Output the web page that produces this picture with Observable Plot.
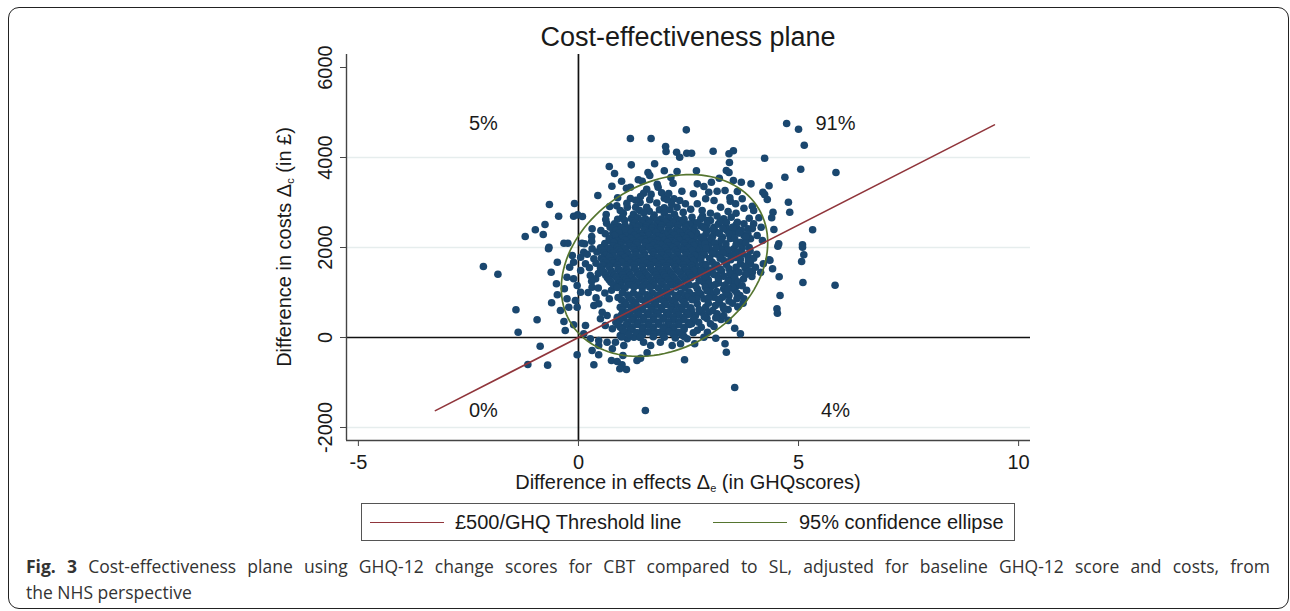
<!DOCTYPE html>
<html><head><meta charset="utf-8">
<script src="https://cdn.jsdelivr.net/npm/d3@7"></script>
<script src="https://cdn.jsdelivr.net/npm/@observablehq/plot@0.6"></script>
<style>
body{margin:0;background:#fff;width:1290px;height:611px;position:relative;overflow:hidden;font-family:"Liberation Sans",Arial,sans-serif;color:#1a1a1a;}
#frame{position:absolute;left:8px;top:7px;width:1281px;height:602px;border:1.5px solid #222;border-radius:11px;box-sizing:border-box;}
#chart{position:absolute;left:0;top:0;}
#title{position:absolute;left:346px;width:684px;top:21px;line-height:32px;text-align:center;font-size:27px;}
#xlabel{position:absolute;left:346px;width:684px;top:473px;line-height:18px;text-align:center;font-size:20px;}
#ylabel{position:absolute;left:287px;top:247px;transform:translate(-50%,-50%) rotate(-90deg);white-space:nowrap;font-size:20px;line-height:24px;}
sub{font-size:11px;vertical-align:-3px;}
#legend{position:absolute;left:361px;top:503px;width:654px;height:38px;border:1px solid #555;box-sizing:border-box;font-size:20px;}
#legend .sw{position:absolute;top:18px;width:74px;height:0;border-top:1.6px solid;}
#legend .lb{position:absolute;top:7px;line-height:22px;white-space:nowrap;}
#caption{position:absolute;left:26px;top:553px;width:1244px;font-family:"Open Sans","Noto Sans",sans-serif;font-size:17.5px;color:#333;line-height:26px;}
#caption .l1{text-align:justify;text-align-last:justify;}
</style>
</head><body>
<div id="frame"></div>
<div id="chart"></div>
<div id="title">Cost-effectiveness plane</div>
<div id="ylabel">Difference in costs Δ<sub>c</sub> (in £)</div>
<div id="xlabel">Difference in effects Δ<sub>e</sub> (in GHQscores)</div>
<div id="legend">
  <div class="sw" style="left:8px;border-color:#90353b"></div>
  <div class="lb" style="left:93px">£500/GHQ Threshold line</div>
  <div class="sw" style="left:351px;border-color:#55752f"></div>
  <div class="lb" style="left:437px">95% confidence ellipse</div>
</div>
<div id="caption">
  <div class="l1"><b>Fig. 3</b> Cost-effectiveness plane using GHQ-12 change scores for CBT compared to SL, adjusted for baseline GHQ-12 score and costs, from</div>
  <div>the NHS perspective</div>
</div>
<script>
// ---- data ----
const xTicks = [-5, 0, 5, 10];
const yTicks = [-2000, 0, 2000, 4000, 6000];
const yGrid = [-2000, 2000, 4000];
const xDomain = [-5.27, 10.27];
const yDomain = [-2289, 6289];

// bootstrap replicates: [difference in effects, difference in costs]
const bootstrapDraws = [
// north-west & outlying
[-2.16,1578],[-1.83,1407],[-1.42,615],[-0.94,393],[-1.37,118],[-0.87,-193],[-1.15,-600],[-0.70,-615],
[-1.21,2244],[-0.98,2393],[-0.80,2289],[-0.76,2511],[-0.67,2007],[-0.66,2955],[-0.09,2978],[-0.45,2695],
[-0.11,2695],[-0.02,2726],[0.09,2689],[-0.33,2095],[-0.24,2095],[0.08,2095],[0.14,2082],
[-0.68,1971],[-0.48,1673],[-0.62,1451],[-0.50,1193],[-0.48,949],[-0.61,771],[-0.41,600],[-0.33,356],
[-0.30,156],[-0.11,282],[-0.03,-384],[0.35,-607],[0.75,-511],[0.99,-607],[1.09,-711],[0.94,-696],
[1.01,-400],[0.88,-533],[1.33,-511],[1.41,-460],[1.56,-340],[2.41,-496],[0.31,-289],[0.46,-384],
[0.77,-251],[0.46,-178],[3.55,-1110],[1.52,-1622],
// upper part (north)
[2.45,4615],[1.18,4422],[1.65,4422],[1.98,4244],[1.99,4133],[2.23,4118],[2.30,4006],[2.46,4095],
[0.70,3800],[1.20,3837],[1.73,3860],[0.82,3644],[1.58,3666],[1.62,3600],[1.95,3704],[2.24,3689],
[0.98,3473],[0.76,3362],[1.36,3504],[1.45,3473],[1.79,3406],[1.81,3340],[2.10,3555],[2.15,3429],
[1.09,3318],[1.18,3340],[1.55,3295],[1.48,3206],[1.89,3215],[1.95,3095],[2.02,3060],[2.17,3082],
[2.30,3044],[0.44,3155],[0.89,3104],[1.18,3089],[1.41,3133],[1.62,3060],[0.71,2911],[0.87,2926],
[1.11,2895],[1.30,2895],[1.39,2822],[1.55,2895],[1.61,2806],[1.84,2838],[1.95,2882],[2.08,2838],
[2.24,2895],[2.43,2971],[0.63,2733],[0.89,2629],[1.00,2673],[1.05,2600],[1.20,2644],[1.24,2526],
[0.82,2526],[0.92,2466],[0.64,2540],[0.31,2415],[0.30,2244],[0.30,2140],[0.51,2378],[0.61,2304],
[0.80,2437],[0.78,2318],[0.88,2215],[1.03,2318],[1.11,2193],
[1.02,2760],[1.25,2740],[1.48,2770],[1.72,2720],[1.95,2760],[2.18,2740],[2.38,2780],[1.10,2980],
[1.40,3000],[1.78,2990],[2.12,2960],[2.55,2850],[0.95,2820],[1.65,3180],[2.05,3200],[1.30,3050],
[2.35,3250],[0.62,2620],[0.72,2450],[2.60,2560],
// north-east outliers
[4.73,4755],[5.00,4629],[5.13,4273],[5.85,3666],[5.05,3740],[4.69,3562],[4.23,3984],[3.06,4140],
[3.42,4082],[3.52,4149],[3.43,3889],[3.36,3711],[3.42,3666],[3.20,3540],[2.68,3704],[2.57,4095],
[3.52,3489],[3.70,3451],[3.92,3415],[4.33,3371],[4.19,3229],[4.23,3178],[4.29,3066],[4.77,3006],
[4.80,2784],[4.42,2784],[4.39,2660],[4.44,2400],[5.32,2393],[4.55,2082],[5.09,2060],
[4.53,2029],[5.09,2007],[5.12,1838],[5.07,1689],[4.35,1718],[4.41,1527],[4.56,1349],[5.10,1222],
[5.83,1162],[4.58,933],[4.51,638],[4.52,540],[3.74,762],[3.55,207],[3.68,82],[3.33,-140],[3.36,-327],
[3.12,-16],[3.08,244],[3.24,400],[2.79,229],[2.64,-140],[2.61,104],[2.57,304],[2.57,562],
[3.94,1355],[4.14,1451],[4.20,1638],[4.33,1727],
// right half of cloud
[2.70,3415],[2.85,3355],[3.02,3451],[2.96,3229],[3.15,3251],[3.33,3266],[3.61,3244],[2.89,3082],
[3.08,3044],[3.44,3104],[3.45,3029],[3.57,2971],[3.72,3082],[3.76,2873],[3.95,2918],[3.98,2822],
[4.10,2660],[3.98,2526],[4.15,2451],[3.23,2895],[3.30,2638],[3.47,2673],[3.61,2562],[3.76,2526],
[3.85,2415],[4.06,2266],[4.18,2155],[3.38,2378],[3.53,2340],[3.76,2266],[3.68,2118],[3.27,2229],
[3.08,2451],[2.93,2600],[2.81,2822],[2.70,2971],[2.61,3193],[2.58,2673],[2.64,2378],[2.76,2118],
[3.00,2118],[3.19,2044],[3.91,2193],
[2.77,1895],[3.00,1933],[3.27,1955],[3.53,1971],[3.72,1984],[2.81,1638],[3.04,1673],[3.30,1711],
[3.42,1527],[3.68,1638],[3.80,1527],[3.91,1638],[4.02,1562],[2.70,1378],[2.93,1415],[3.15,1378],
[3.45,1304],[3.61,1155],[3.30,1082],[3.00,1118],[2.85,1229],[2.70,1082],[2.62,933],[2.85,860],
[3.08,896],[3.27,896],[3.42,933],[3.11,711],[2.89,673],[2.96,562],[3.15,527],[3.30,489],[2.70,749],
[2.66,489],[2.58,340],[2.73,340],[3.00,304],[2.93,118],[2.85,7],[3.67,933],[3.76,860],
[2.78,2480],[2.92,2380],[3.05,2250],[3.18,2520],[3.34,2460],[3.45,2200],[3.60,2420],[2.70,2260],
[2.86,2180],[3.12,2350],[2.75,1990],[2.95,2030],[3.15,1850],[3.40,1860],[3.58,1780],[2.70,1760],
[2.88,1540],[3.10,1560],[3.25,1480],[3.52,1430],[2.75,1500],[2.95,1280],[3.18,1210],[3.35,1000],
[3.55,1050],[2.78,960],[3.00,990],[3.20,780],[2.80,560],[3.05,600],[2.65,1640],[2.82,2700],
[3.00,2760],[3.15,2700],[3.40,2800],[3.58,2760],[3.88,2650],[3.95,2420],[3.88,2000],[3.85,1800],
[4.05,1850],[3.95,1450],[3.75,1300],[3.82,1050],[3.50,1250],[3.62,680],[3.40,620],[3.40,380],
[2.92,420],[2.70,160],
[2.78,2640],[3.00,2600],[3.22,2580],[2.70,2550],[2.92,2520],[3.36,2560],[3.58,2500],
[2.62,2430],[2.85,2440],[3.05,2400],[3.28,2420],[3.50,2450],[3.70,2380],
[2.68,2320],[2.90,2300],[3.20,2310],[3.42,2300],[3.65,2320],[3.85,2300],
[2.62,2200],[2.82,2230],[3.02,2190],[3.24,2160],[3.55,2200],[3.80,2230],
[2.64,2090],[2.88,2080],[3.10,2100],[3.35,2080],[3.58,2060],[3.80,2100],
[2.68,1960],[2.90,1980],[3.12,1990],[3.40,1950],[3.62,1900],[3.90,1920],
[2.62,1860],[2.86,1840],[3.05,1860],[3.28,1870],[3.50,1830],[3.72,1860],[3.98,1760],
[2.78,1750],[2.98,1760],[3.22,1760],[3.46,1730],[3.68,1740],[3.86,1700],
[2.66,1600],[2.90,1620],[3.14,1610],[3.36,1620],[3.58,1560],[3.78,1580],
[2.78,1480],[3.00,1500],[3.22,1520],[3.44,1420],[3.65,1450],[3.88,1480],
[2.64,1390],[2.86,1350],[3.08,1400],[3.30,1360],[3.55,1340],[3.80,1400],
[2.74,1260],[2.96,1200],[3.18,1280],[3.40,1250],[3.62,1240],
[2.66,1150],[2.88,1120],[3.10,1170],[3.32,1160],[3.50,1120],[3.72,1150],
[2.74,1000],[2.92,1040],[3.14,1020],[3.40,1080],[3.60,990],
[2.68,860],[2.96,880],[3.18,850],[3.42,810],[3.60,860],
[2.74,620],[2.95,760],[3.28,700],[3.50,760],
[2.62,420],[2.86,460],[3.12,440],[3.30,640],
// left edge of cloud
[-0.20,1562],[-0.26,1340],[-0.32,1082],[-0.26,860],[-0.22,673],[-0.11,1304],[-0.03,1155],[0.05,1007],
[-0.07,822],[-0.03,673],[0.05,1489],[-0.11,1673],[-0.14,1822],[0.05,1784],[0.16,1638],[0.12,1895],
[0.31,1971],[0.35,1749],[0.27,1378],[0.39,1304],[0.31,1118],[0.35,711],[0.46,749],[0.54,562],
[0.50,416],[0.65,489],[0.61,267],[0.77,193],[0.95,44],[1.11,-29],[1.26,7],[1.48,-104],[1.64,-178],
[1.86,-104],[2.13,-178],[2.32,-140],[2.47,-29],[0.16,267],[0.12,82],[0.27,-29],[0.46,-67],[0.65,-104],
[0.84,-104],[1.03,-178],
[0.25,1550],[0.40,1650],[0.20,1850],[0.42,1900],[0.30,1250],[0.45,1420],[0.22,1000],[0.45,1100],
[0.40,880],[0.60,990],[0.75,1050],[0.70,860],
// dense core
[1.35,2660],[1.52,2640],[1.70,2655],[1.88,2630],[2.05,2665],[2.22,2645],[2.40,2625],
[1.44,2600],[1.61,2590],[1.79,2605],[1.96,2595],[2.14,2585],[2.31,2600],
[1.28,2545],[1.45,2530],[1.63,2550],[1.80,2520],[1.98,2555],[2.16,2535],[2.35,2545],[2.52,2520],
[1.06,2490],[1.24,2480],[1.37,2495],[1.54,2485],[1.72,2475],[1.89,2495],[2.07,2480],[2.26,2490],[2.44,2485],
[0.98,2440],[1.15,2425],[1.33,2445],[1.52,2420],[1.68,2435],[1.87,2440],[2.04,2415],[2.25,2430],[2.44,2445],
[0.85,2375],[1.06,2385],[1.30,2365],[1.49,2380],[1.67,2370],[1.86,2385],[2.03,2365],[2.21,2375],[2.40,2385],[2.58,2370],
[0.92,2320],[1.20,2330],[1.40,2310],[1.58,2325],[1.76,2335],[1.95,2305],[2.12,2320],[2.30,2330],[2.50,2310],
[0.82,2265],[1.09,2255],[1.27,2270],[1.43,2260],[1.60,2275],[1.80,2255],[1.99,2265],[2.17,2270],[2.36,2255],[2.55,2265],
[0.70,2200],[1.00,2215],[1.18,2205],[1.35,2220],[1.50,2195],[1.70,2210],[1.90,2225],[2.08,2200],[2.26,2215],[2.45,2205],
[0.70,2155],[0.88,2145],[1.06,2160],[1.24,2150],[1.42,2165],[1.62,2145],[1.80,2155],[1.96,2160],[2.11,2150],[2.30,2160],[2.50,2145],
[0.60,2090],[0.80,2110],[0.97,2100],[1.15,2085],[1.32,2105],[1.52,2115],[1.72,2095],[1.85,2080],[2.02,2110],[2.20,2100],[2.40,2090],[2.58,2110],
[0.59,2045],[0.78,2035],[0.96,2050],[1.15,2040],[1.34,2055],[1.51,2035],[1.69,2045],[1.88,2050],[2.06,2040],[2.24,2050],[2.42,2035],[2.62,2045],
[0.50,1995],[0.68,1980],[0.88,2000],[1.05,1985],[1.25,1995],[1.42,1975],[1.60,2005],[1.78,1990],[1.97,1980],[2.15,2000],[2.33,1985],[2.50,1995],
[0.54,1935],[0.73,1925],[0.91,1940],[1.08,1930],[1.27,1945],[1.46,1925],[1.65,1935],[1.83,1940],[2.01,1925],[2.20,1935],[2.39,1945],[2.58,1930],
[0.58,1880],[0.78,1870],[0.95,1890],[1.12,1875],[1.30,1885],[1.50,1865],[1.70,1890],[1.88,1880],[2.05,1870],[2.25,1885],[2.44,1875],
[0.61,1825],[0.79,1815],[0.96,1830],[1.14,1820],[1.31,1835],[1.50,1815],[1.70,1825],[1.89,1830],[2.07,1815],[2.26,1825],[2.45,1835],[2.64,1820],
[0.52,1765],[0.70,1780],[0.88,1760],[1.05,1775],[1.22,1770],[1.40,1785],[1.60,1760],[1.80,1775],[1.98,1765],[2.16,1780],[2.35,1760],[2.55,1770],
[0.57,1715],[0.75,1705],[0.93,1720],[1.11,1710],[1.29,1725],[1.47,1705],[1.67,1715],[1.85,1720],[2.03,1705],[2.22,1715],[2.41,1725],[2.60,1710],
[0.62,1660],[0.80,1650],[0.98,1670],[1.18,1655],[1.36,1665],[1.55,1645],[1.73,1670],[1.90,1655],[2.08,1660],[2.28,1650],[2.46,1665],
[0.55,1605],[0.71,1595],[0.89,1610],[1.08,1600],[1.27,1615],[1.46,1595],[1.64,1605],[1.82,1610],[2.00,1595],[2.18,1605],[2.38,1615],[2.57,1600],
[0.50,1545],[0.70,1560],[0.90,1540],[1.08,1555],[1.26,1550],[1.45,1565],[1.64,1540],[1.82,1555],[2.00,1545],[2.20,1560],[2.40,1550],[2.58,1540],
[0.54,1495],[0.74,1485],[0.93,1500],[1.11,1490],[1.30,1505],[1.48,1485],[1.68,1495],[1.86,1500],[2.05,1485],[2.25,1495],[2.45,1505],[2.62,1490],
[0.58,1445],[0.78,1430],[0.96,1450],[1.15,1435],[1.34,1440],[1.52,1425],[1.72,1450],[1.90,1440],[2.10,1430],[2.30,1445],[2.50,1435],
[0.62,1385],[0.82,1375],[1.00,1390],[1.18,1380],[1.38,1395],[1.56,1375],[1.76,1385],[1.94,1390],[2.14,1375],[2.34,1385],[2.53,1395],
[0.66,1325],[0.86,1340],[1.04,1320],[1.22,1335],[1.42,1330],[1.60,1345],[1.80,1320],[1.98,1335],[2.18,1325],[2.38,1340],[2.56,1330],
[0.70,1275],[0.90,1265],[1.08,1280],[1.27,1270],[1.46,1285],[1.65,1265],[1.84,1275],[2.03,1280],[2.23,1265],[2.43,1275],
[0.74,1225],[0.95,1210],[1.12,1230],[1.32,1215],[1.50,1220],[1.70,1205],[1.88,1230],[2.08,1220],[2.28,1210],[2.48,1225],
[0.80,1165],[0.97,1155],[1.16,1170],[1.35,1160],[1.54,1175],[1.72,1155],[1.91,1165],[2.11,1170],[2.32,1155],[2.52,1165],
[0.88,1110],[1.06,1100],[1.26,1120],[1.45,1105],[1.62,1115],[1.82,1095],[2.00,1110],[2.22,1120],[2.42,1100],
[1.00,1000],[1.25,990],[1.45,1005],[1.68,985],[1.90,1000],[2.10,1010],[2.32,990],[2.52,1000],
[1.12,945],[1.35,935],[1.56,950],[1.79,940],[2.00,955],[2.21,935],[2.42,945],
[0.90,890],[1.15,880],[1.38,895],[1.60,885],[1.82,870],[2.02,890],[2.25,880],[2.48,895],
[0.98,835],[1.22,825],[1.45,840],[1.67,830],[1.88,845],[2.12,825],[2.36,835],[2.58,840],
[1.05,780],[1.30,770],[1.52,790],[1.74,775],[1.95,785],[2.18,770],[2.40,780],
[1.08,725],[1.31,715],[1.54,730],[1.76,720],[1.99,735],[2.22,715],[2.44,725],
[0.95,670],[1.20,680],[1.42,660],[1.65,675],[1.88,665],[2.10,680],[2.33,670],[2.55,660],
[1.00,615],[1.22,605],[1.45,620],[1.67,610],[1.89,625],[2.11,605],[2.34,615],[2.56,620],
[1.10,560],[1.34,570],[1.56,550],[1.78,565],[2.00,555],[2.22,570],[2.45,560],
[0.98,505],[1.16,495],[1.37,510],[1.59,500],[1.81,515],[2.04,495],[2.27,505],[2.49,510],
[0.88,450],[1.02,440],[1.25,455],[1.48,445],[1.70,460],[1.92,440],[2.15,450],[2.38,445],
[0.95,395],[1.24,385],[1.48,400],[1.71,390],[1.93,405],[2.17,385],[2.40,395],
[0.85,340],[1.12,335],[1.36,350],[1.60,330],[1.82,345],[2.05,335],[2.28,350],[2.50,340],
[0.90,285],[1.08,275],[1.34,290],[1.58,280],[1.82,295],[2.05,275],[2.28,285],[2.52,290],
[0.95,230],[1.22,220],[1.46,235],[1.70,225],[1.94,240],[2.16,230],[2.40,220],
[1.00,175],[1.18,165],[1.45,180],[1.69,170],[1.92,185],[2.17,165],[2.40,175],
[1.05,120],[1.32,110],[1.58,125],[1.80,115],[2.05,130],[2.28,110],
[1.15,65],[1.45,55],[1.70,70],[1.92,60],[2.15,75],[2.36,55],
[0.98,10],[1.40,0],[1.70,15],[1.95,5],[2.20,-10],[2.40,20]
];

// threshold: £500 per GHQ point
const wtpThreshold = 500;
const thresholdEffects = [-3.25, 9.45];

// 95% confidence ellipse parameters
const ellipseCenter = [1.955, 1600];
const ellipseHalfWidth = 2.345;   // effects
const ellipseHalfHeight = 2020;   // costs
const ellipseCosPhase = 0.25;     // tilt (correlation)

const quadrantLabels = ["5%", "91%", "0%", "4%"];
const quadrantEffects = [-2.16, 5.84, -2.16, 5.84];
const quadrantCosts = [4755, 4755, -1622, -1622];

// ---- derived tables ----
const dots = bootstrapDraws.map(([e, c]) => ({e, c}));
const threshold = thresholdEffects.map(e => ({e, c: wtpThreshold * e}));
const phi = Math.acos(ellipseCosPhase);
const ellipse = d3.range(0, 361, 3).map(deg => {
  const t = deg * Math.PI / 180;
  return {e: ellipseCenter[0] + ellipseHalfWidth * Math.cos(t),
          c: ellipseCenter[1] + ellipseHalfHeight * Math.cos(t - phi)};
});
const quads = quadrantLabels.map((t, i) => ({t, e: quadrantEffects[i], c: quadrantCosts[i]}));
const fmt = d => String(d);

const chart = Plot.plot({
  width: 1290, height: 495,
  marginLeft: 346, marginRight: 260, marginTop: 54, marginBottom: 55,
  style: {background: "transparent", fontFamily: "Liberation Sans, Arial, sans-serif", fontSize: "20px", color: "#1a1a1a"},
  x: {domain: xDomain},
  y: {domain: yDomain},
  marks: [
    Plot.ruleY(yGrid, {stroke: "#e6eded", strokeWidth: 1.6}),
    Plot.ruleY([0], {stroke: "#111", strokeWidth: 1.7}),
    Plot.ruleX([0], {stroke: "#111", strokeWidth: 1.7}),
    Plot.dot(dots, {x: "e", y: "c", r: 3.8, fill: "#1a476f", stroke: "none"}),
    Plot.line(ellipse, {x: "e", y: "c", stroke: "#55752f", strokeWidth: 1.7}),
    Plot.line(threshold, {x: "e", y: "c", stroke: "#90353b", strokeWidth: 1.6}),
    Plot.text(quads, {x: "e", y: "c", text: "t", fontSize: 20, fill: "#1a1a1a"}),
    Plot.ruleX([xDomain[0]], {stroke: "#444", strokeWidth: 1.4}),
    Plot.ruleY([yDomain[0]], {stroke: "#444", strokeWidth: 1.4}),
    Plot.axisX({ticks: xTicks, tickFormat: fmt, tickSize: 6, tickPadding: 8, label: null, stroke: "#444"}),
    Plot.axisY({ticks: yTicks, tickFormat: fmt, tickSize: 6, tickPadding: 9, tickRotate: -90, label: null, stroke: "#444"})
  ]
});
document.getElementById("chart").appendChild(chart);
</script>
</body></html>
